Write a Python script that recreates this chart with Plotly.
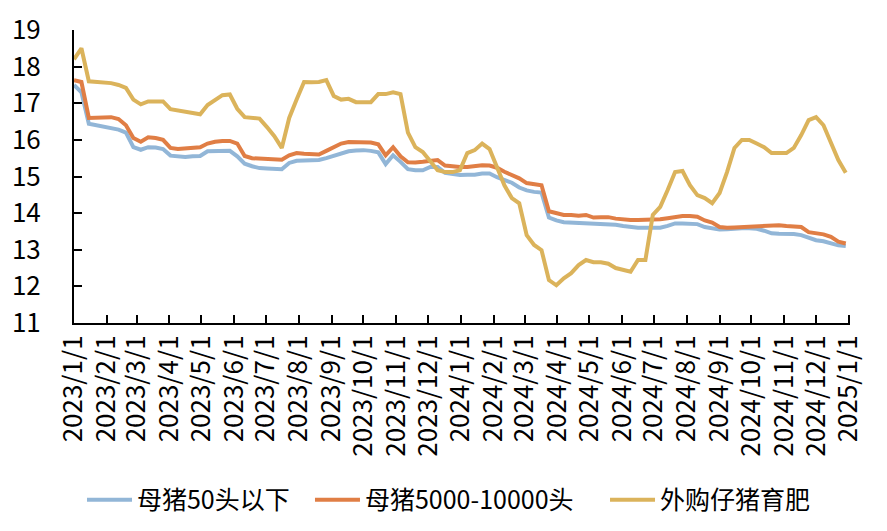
import pandas as pd
import plotly.graph_objects as go

# Weekly observation dates
dates = pd.date_range("2023-01-01", periods=105, freq="7D")

small_farm = [  # 母猪50头以下
    17.5, 17.3, 16.44, 16.4, 16.35, 16.3, 16.28, 16.2, 15.8, 15.73,
    15.8, 15.79, 15.75, 15.57, 15.54, 15.53, 15.55, 15.56, 15.69, 15.7,
    15.7, 15.7, 15.55, 15.35, 15.28, 15.23, 15.22, 15.2, 15.2, 15.37,
    15.43, 15.44, 15.44, 15.45, 15.5, 15.56, 15.64, 15.69, 15.71, 15.72,
    15.7, 15.66, 15.34, 15.58, 15.4, 15.2, 15.17, 15.17, 15.26, 15.26,
    15.1, 15.06, 15.04, 15.05, 15.05, 15.08, 15.08, 14.98, 14.9, 14.83,
    14.7, 14.62, 14.58, 14.56, 13.88, 13.8, 13.75, 13.74, 13.73, 13.73,
    13.72, 13.71, 13.7, 13.68, 13.65, 13.62, 13.6, 13.6, 13.6, 13.6,
    13.65, 13.72, 13.72, 13.71, 13.7, 13.62, 13.58, 13.55, 13.56, 13.58,
    13.59, 13.59, 13.57, 13.52, 13.45, 13.44, 13.44, 13.43, 13.4, 13.32,
    13.26, 13.23, 13.18, 13.12, 13.1,
]

large_farm = [  # 母猪5000-10000头
    17.63, 17.58, 16.6, 16.6, 16.6, 16.62, 16.57, 16.4, 16.05, 15.95,
    16.07, 16.05, 16.0, 15.78, 15.75, 15.76, 15.77, 15.8, 15.9, 15.95,
    15.97, 15.97, 15.9, 15.56, 15.5, 15.49, 15.47, 15.47, 15.46, 15.58,
    15.64, 15.62, 15.6, 15.6, 15.7, 15.8, 15.9, 15.94, 15.93, 15.93,
    15.93, 15.88, 15.58, 15.8, 15.55, 15.39, 15.38, 15.4, 15.43, 15.45,
    15.3, 15.27, 15.26, 15.26, 15.28, 15.31, 15.3, 15.24, 15.13, 15.05,
    14.95, 14.82, 14.8, 14.76, 14.05, 14.0, 13.95, 13.95, 13.93, 13.95,
    13.88, 13.89, 13.89, 13.85, 13.82, 13.81, 13.81, 13.81, 13.81, 13.83,
    13.86, 13.9, 13.92, 13.92, 13.9, 13.8, 13.74, 13.62, 13.6, 13.61,
    13.62, 13.63, 13.62, 13.63, 13.65, 13.67, 13.65, 13.64, 13.62, 13.48,
    13.45, 13.42, 13.35, 13.22, 13.17,
]

piglet_fattening = [  # 外购仔猪育肥
    18.2, 18.5, 17.6, 17.58, 17.57, 17.55, 17.5, 17.42, 17.1, 16.97,
    17.05, 17.04, 17.05, 16.84, 16.8, 16.78, 16.74, 16.7, 16.95, 17.1,
    17.22, 17.24, 16.85, 16.62, 16.6, 16.58, 16.35, 16.1, 15.78, 16.6,
    17.1, 17.58, 17.57, 17.58, 17.63, 17.2, 17.1, 17.12, 17.03, 17.03,
    17.03, 17.25, 17.25, 17.3, 17.25, 16.2, 15.8, 15.67, 15.4, 15.17,
    15.12, 15.12, 15.17, 15.64, 15.72, 15.9, 15.75, 15.23, 14.76, 14.41,
    14.27, 13.4, 13.13, 12.99, 12.17, 12.03, 12.22, 12.36, 12.58, 12.72,
    12.66, 12.66, 12.62, 12.5, 12.45, 12.4, 12.72, 12.72, 13.95, 14.17,
    14.63, 15.12, 15.15, 14.76, 14.49, 14.41, 14.27, 14.55, 15.12, 15.78,
    16.0, 16.0, 15.9, 15.8, 15.64, 15.64, 15.64, 15.78, 16.13, 16.54,
    16.62, 16.4, 15.94, 15.45, 15.1,
]

series_names = ["母猪50头以下", "母猪5000-10000头", "外购仔猪育肥"]
series_colors = ["#92B6D7", "#E07E45", "#DBB35B"]

tick_dates = pd.date_range("2023-01-01", "2025-01-01", freq="MS")
tick_labels = [
    "2023/1/1", "2023/2/1", "2023/3/1", "2023/4/1", "2023/5/1", "2023/6/1",
    "2023/7/1", "2023/8/1", "2023/9/1", "2023/10/1", "2023/11/1", "2023/12/1",
    "2024/1/1", "2024/2/1", "2024/3/1", "2024/4/1", "2024/5/1", "2024/6/1",
    "2024/7/1", "2024/8/1", "2024/9/1", "2024/10/1", "2024/11/1", "2024/12/1",
    "2025/1/1",
]

FONT = "Noto Sans CJK SC, Microsoft YaHei, sans-serif"

legend_ids = ["legend", "legend2", "legend3"]
legend_x = [0.0103, 0.3041, 0.6843]

fig = go.Figure()
for name, vals, col, lid in zip(series_names, [small_farm, large_farm, piglet_fattening],
                                series_colors, legend_ids):
    fig.add_trace(go.Scatter(
        x=dates, y=vals, mode="lines", name=name,
        line=dict(color=col, width=4),
        legend=lid,
    ))

legend_style = dict(
    orientation="h", xanchor="left", y=-0.604, yanchor="middle",
    font=dict(family=FONT, size=25, color="black"),
    bgcolor="rgba(0,0,0,0)",
    itemwidth=45,
)

fig.update_layout(
    width=871, height=515,
    margin=dict(l=66, r=29, t=22, b=200, autoexpand=False),
    paper_bgcolor="white", plot_bgcolor="white",
    font=dict(family=FONT, size=24, color="black"),
    showlegend=True,
    legend=dict(x=legend_x[0], **legend_style),
    legend2=dict(x=legend_x[1], **legend_style),
    legend3=dict(x=legend_x[2], **legend_style),
)

fig.update_xaxes(
    type="date",
    range=["2023-01-01", "2025-01-02"],
    tickvals=list(tick_dates), ticktext=tick_labels,
    tickangle=-90,
    ticks="inside", ticklen=8, tickwidth=2, tickcolor="black",
    showline=True, linecolor="black", linewidth=2,
    showgrid=False, zeroline=False,
    tickfont=dict(family=FONT, size=26, color="black"),
)
fig.update_yaxes(
    range=[11, 19], dtick=1,
    ticks="inside", ticklen=8, tickwidth=2, tickcolor="black",
    showline=True, linecolor="black", linewidth=2,
    showgrid=False, zeroline=False,
    tickfont=dict(family=FONT, size=26, color="black"),
    ticklabelstandoff=26,
)

fig.write_html("out.html")
